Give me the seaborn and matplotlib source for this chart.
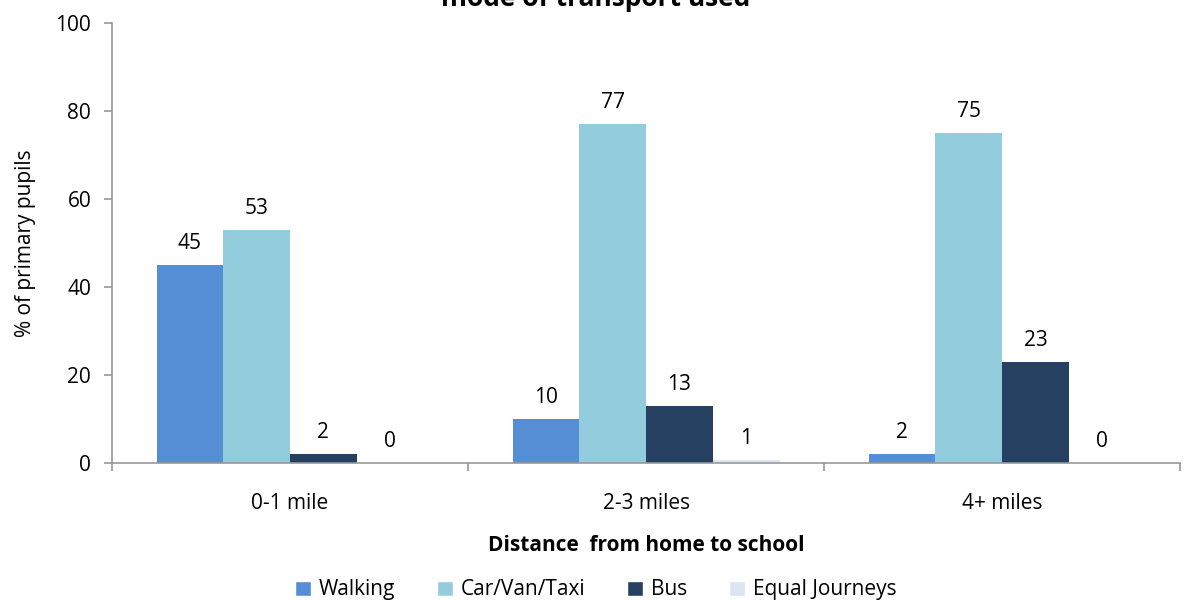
import pandas as pd
import numpy as np
import matplotlib as mpl
import seaborn as sns
from matplotlib import pyplot as plt
from matplotlib.patches import Patch

distances = ["0-1 mile", "2-3 miles", "4+ miles"]
modes = ["Walking", "Car/Van/Taxi", "Bus", "Equal Journeys"]
walking = [45, 10, 2]
car = [53, 77, 75]
bus = [2, 13, 23]
equal = [0, 0.7, 0]
colors = ["#558ED5", "#93CDDD", "#254061", "#DCE6F2"]

rows = []
for m, vals in zip(modes, [walking, car, bus, equal]):
    for d, v in zip(distances, vals):
        rows.append({"distance": d, "mode": m, "pct": v})
df = pd.DataFrame(rows)

sns.set_style("white")
plt.rcParams["font.family"] = ["Open Sans", "DejaVu Sans"]
plt.rcParams["text.color"] = "black"
plt.rcParams["axes.labelcolor"] = "black"
plt.rcParams["xtick.labelcolor"] = "black"
plt.rcParams["ytick.labelcolor"] = "black"
fs = 15

fig = plt.figure(figsize=(11.92, 6.02), dpi=100)
ax = fig.add_axes([0.094, 0.231, 0.896, 0.731])
sns.barplot(data=df, x="distance", y="pct", hue="mode", palette=colors,
            width=0.75, saturation=1, ax=ax, legend=False, linewidth=0,
            edgecolor="none")

for c in ax.containers:
    ax.bar_label(c, labels=["%.0f" % b.get_height() for b in c],
                 padding=8, fontsize=fs)

ax.set_xlim(-0.5, 2.5)
ax.set_ylim(0, 100)
ax.set_yticks([0, 20, 40, 60, 80, 100])
for s in ["top", "right"]:
    ax.spines[s].set_visible(False)
for s in ["left", "bottom"]:
    ax.spines[s].set_color("#989898")
    ax.spines[s].set_linewidth(1.2)
ax.tick_params(axis="y", left=True, length=6, width=1.2, color="#989898",
               pad=9, labelsize=fs)
ax.set_xticks([-0.5, 0.5, 1.5, 2.5], minor=True)
ax.tick_params(axis="x", which="minor", bottom=True, length=6, width=1.2,
               color="#989898")
ax.tick_params(axis="x", which="major", length=0, pad=22, labelsize=fs)

ax.set_xlabel("Distance  from home to school", fontsize=fs, fontweight="bold",
              labelpad=15)
ax.set_ylabel("% of primary pupils", fontsize=fs, labelpad=14)

fig.text(0.5, 0.99, "mode of transport used", ha="center", va="baseline",
         fontsize=19, fontweight="bold")

handles = [Patch(facecolor=c, label=m) for c, m in zip(colors, modes)]
fig.legend(handles=handles, loc="center", bbox_to_anchor=(0.5, 0.02),
           ncol=4, frameon=False, fontsize=fs, handlelength=0.75,
           handleheight=0.75, handletextpad=0.4, columnspacing=2.0)

fig.savefig("out.png", dpi=100)
